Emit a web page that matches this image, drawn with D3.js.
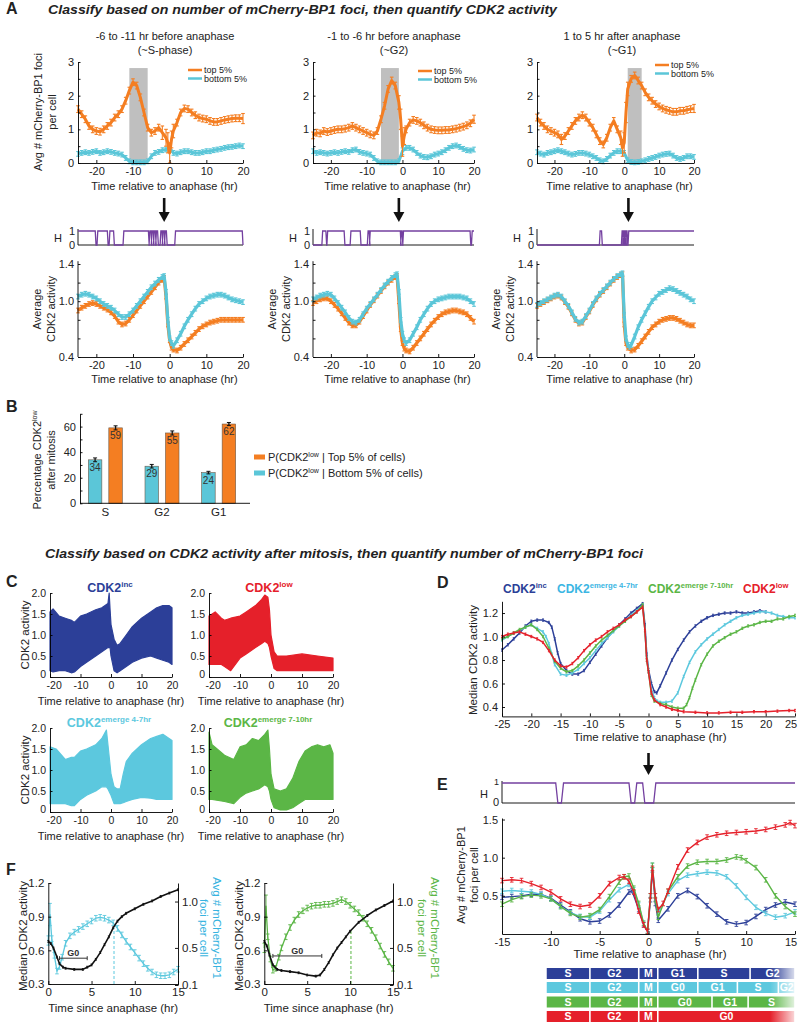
<!DOCTYPE html>
<html><head><meta charset="utf-8">
<script src="https://cdn.jsdelivr.net/npm/d3@7"></script>
<style>body{margin:0;background:#fff}svg{display:block}</style>
</head><body><script>
// ================= DATA =================
// Panel A: avg # mCherry-BP1 foci (t, value, optional err)
const fociTopS=[[-25,1.6],[-24,1.45],[-23,1.3],[-22,1.1],[-21,1.0],[-20,0.95],[-19,0.93],[-18,1.0],[-17,1.1],[-16,1.2],[-15,1.35],[-14,1.45],[-13,1.6],[-12,1.85],[-11,2.15],[-10,2.4],[-9,2.3],[-8,1.95],[-7,1.5],[-6,1.05],[-5,0.9],[-4,0.95],[-3,1.05],[-2,0.9,0.2],[-1,0.75,0.25],[-0.5,0.6,0.3],[0,0.3,0.3],[0.5,0.7,0.25],[1,0.95,0.2],[2,1.2],[3,1.5],[4,1.62],[5,1.6],[6,1.5],[7,1.42],[8,1.35],[9,1.32],[10,1.3],[11,1.25],[12,1.22],[13,1.22],[14,1.25],[15,1.28],[16,1.3],[17,1.32],[18,1.33],[19,1.33],[20,1.32,0.15]];
const fociBotS=[[-25,0.27],[-24,0.3],[-23,0.32],[-22,0.3],[-21,0.33],[-20,0.35],[-19,0.3],[-18,0.32],[-17,0.35],[-16,0.33],[-15,0.3],[-14,0.28],[-13,0.25],[-12,0.15],[-11,0.05],[-10,0.02],[-9,0.02],[-8,0.02],[-7,0.02],[-6,0.05],[-5,0.2],[-4,0.3],[-3,0.33],[-2,0.38],[-1,0.4],[0,0.45,0.12],[1,0.3],[2,0.28],[3,0.32],[4,0.35],[5,0.35],[6,0.32],[7,0.3],[8,0.3],[9,0.32],[10,0.35],[11,0.35],[12,0.38],[13,0.4],[14,0.42],[15,0.45],[16,0.47],[17,0.48],[18,0.5],[19,0.52],[20,0.5]];
const fociTopG2=[[-25,0.82],[-24,0.9],[-23,0.88],[-22,0.95],[-21,0.92],[-20,0.95],[-19,0.98],[-18,1.0],[-17,1.0],[-16,1.02],[-15,1.05],[-14,1.1],[-13,1.05],[-12,1.0],[-11,0.95],[-10,0.9],[-9,0.85],[-8,0.82],[-7,0.95],[-6,1.3],[-5,1.7],[-4,2.2],[-3,2.45],[-2,2.3],[-1,1.8,0.2],[-0.5,1.3,0.3],[0,0.5,0.3],[0.5,0.8,0.25],[1,1.0],[2,1.2],[3,1.28],[4,1.25],[5,1.2],[6,1.12],[7,1.05],[8,1.0],[9,0.98],[10,0.97],[11,0.97],[12,0.98],[13,0.98],[14,1.0],[15,1.02],[16,1.05],[17,1.08],[18,1.12],[19,1.18],[20,1.3,0.12]];
const fociBotG2=[[-25,0.35],[-24,0.3],[-23,0.32],[-22,0.3],[-21,0.28],[-20,0.3],[-19,0.32],[-18,0.3],[-17,0.33],[-16,0.35],[-15,0.33],[-14,0.38],[-13,0.4],[-12,0.33],[-11,0.3],[-10,0.28],[-9,0.25],[-8,0.15],[-7,0.05],[-6,0.02],[-5,0.02],[-4,0.02],[-3,0.02],[-2,0.02],[-1,0.05],[0,0.35,0.1],[1,0.45],[2,0.45],[3,0.4],[4,0.3],[5,0.22],[6,0.18],[7,0.17],[8,0.2],[9,0.25],[10,0.28],[11,0.32],[12,0.38],[13,0.45],[14,0.5],[15,0.52],[16,0.48],[17,0.42],[18,0.38],[19,0.37],[20,0.4]];
const fociTopG1=[[-25,1.35],[-24,1.2],[-23,1.1],[-22,1.0],[-21,0.95],[-20,0.9],[-19,0.85],[-18,0.7,0.15],[-17,0.8],[-16,0.95],[-15,1.1],[-14,1.25],[-13,1.35],[-12,1.42],[-11,1.35],[-10,1.2],[-9,1.05],[-8,0.85],[-7,0.65],[-6,0.55],[-5,0.75],[-4,1.05],[-3,1.25],[-2,1.0],[-1,0.75,0.2],[-0.5,0.45,0.25],[0,0.6,0.3],[0.5,1.5,0.3],[1,2.2,0.2],[2,2.5],[3,2.6],[4,2.45],[5,2.3],[6,2.1],[7,1.95],[8,1.85],[9,1.75],[10,1.68],[11,1.62],[12,1.58],[13,1.55],[14,1.52],[15,1.52],[16,1.55],[17,1.55],[18,1.58],[19,1.6],[20,1.62,0.12]];
const fociBotG1=[[-25,0.32],[-24,0.28],[-23,0.25],[-22,0.3],[-21,0.32],[-20,0.35],[-19,0.38],[-18,0.35],[-17,0.32],[-16,0.28],[-15,0.25],[-14,0.27],[-13,0.3],[-12,0.3],[-11,0.28],[-10,0.25],[-9,0.2],[-8,0.15],[-7,0.08],[-6,0.05],[-5,0.12],[-4,0.22],[-3,0.3],[-2,0.35],[-1,0.35],[0,0.3],[1,0.08],[2,0.03],[3,0.02],[4,0.03],[5,0.05],[6,0.08],[7,0.12],[8,0.15],[9,0.18],[10,0.22],[11,0.25],[12,0.27],[13,0.28],[14,0.22],[15,0.15],[16,0.12],[17,0.15],[18,0.2],[19,0.2],[20,0.18]];
const shadeWindows=[[-11,-6],[-6,-1],[1,5]];
const phaseTitles=[["-6 to -11 hr before anaphase","(~S-phase)"],["-1 to -6 hr before anaphase","(~G2)"],["1 to 5 hr after anaphase","(~G1)"]];
// H (significance) intervals where H = 1
const hS=[[-25,-20.3],[-19.6,-17.0],[-16.3,-15.3],[-12.5,-5.8],[-5.4,-5.1],[-4.8,-4.5],[-4.2,-3.9],[-3.6,-3.3],[-2.4,-2.1],[-1.8,-1.5],[-1.2,-0.9],[1.6,19.8]];
const hG2=[[-22.3,-21.4],[-20.9,-16.3],[-14.4,-11.8],[-9.6,-9.3],[-9.0,-0.6],[-0.3,-0.1],[0.3,18.9],[19.5,20]];
const hG1=[[-6.9,-6.5],[-0.6,-0.4],[-0.2,0.0],[0.2,0.4],[0.6,0.8],[1.3,20]];
// Panel A: average CDK2 activity
const cdkTopS=[[-25,0.9],[-24,0.93],[-23,0.95],[-22,0.97],[-21,0.98],[-20,0.97],[-19,0.95],[-18,0.93],[-17,0.91],[-16,0.88],[-15,0.84],[-14,0.78],[-13,0.75],[-12,0.76],[-11,0.8],[-10,0.85],[-9,0.9],[-8,0.95],[-7,1.0],[-6,1.05],[-5,1.1],[-4,1.15],[-3,1.2],[-2,1.23],[-1.5,1.25],[-1,1.05],[-0.5,0.75],[0,0.58],[0.5,0.5],[1,0.48],[2,0.47],[3,0.5],[4,0.54],[5,0.58],[6,0.62],[7,0.66],[8,0.7],[9,0.73],[10,0.75],[11,0.77],[12,0.78],[13,0.79],[14,0.8],[15,0.8],[16,0.8],[17,0.8],[18,0.8],[19,0.8],[20,0.8]];
const cdkBotS=[[-25,1.05],[-24,1.07],[-23,1.08],[-22,1.07],[-21,1.05],[-20,1.03],[-19,1.0],[-18,0.97],[-17,0.95],[-16,0.93],[-15,0.9],[-14,0.86],[-13,0.83],[-12,0.83],[-11,0.86],[-10,0.9],[-9,0.95],[-8,1.0],[-7,1.05],[-6,1.1],[-5,1.15],[-4,1.19],[-3,1.23],[-2,1.26],[-1.5,1.27],[-1,1.1],[-0.5,0.8],[0,0.6],[0.5,0.55],[1,0.52],[2,0.58],[3,0.65],[4,0.73],[5,0.8],[6,0.86],[7,0.92],[8,0.97],[9,1.0],[10,1.03],[11,1.05],[12,1.06],[13,1.07],[14,1.07],[15,1.06],[16,1.04],[17,1.02],[18,1.01],[19,1.0],[20,0.99]];
const cdkTopG2=[[-25,0.98],[-24,1.0],[-23,1.02],[-22,1.03],[-21,1.03],[-20,1.0],[-19,0.96],[-18,0.92],[-17,0.87],[-16,0.82],[-15,0.77],[-14,0.74],[-13,0.74],[-12,0.78],[-11,0.84],[-10,0.9],[-9,0.96],[-8,1.01],[-7,1.06],[-6,1.11],[-5,1.16],[-4,1.2],[-3,1.23],[-2,1.26],[-1.5,1.27],[-1,1.0],[-0.5,0.7],[0,0.55],[0.5,0.49],[1,0.47],[2,0.46],[3,0.5],[4,0.55],[5,0.6],[6,0.65],[7,0.7],[8,0.75],[9,0.79],[10,0.83],[11,0.86],[12,0.88],[13,0.89],[14,0.9],[15,0.9],[16,0.89],[17,0.88],[18,0.86],[19,0.82],[20,0.78]];
const cdkBotG2=[[-25,1.02],[-24,1.04],[-23,1.06],[-22,1.07],[-21,1.08],[-20,1.07],[-19,1.03],[-18,0.98],[-17,0.93],[-16,0.88],[-15,0.82],[-14,0.78],[-13,0.77],[-12,0.8],[-11,0.86],[-10,0.92],[-9,0.97],[-8,1.02],[-7,1.07],[-6,1.12],[-5,1.17],[-4,1.21],[-3,1.25],[-2,1.28],[-1.5,1.29],[-1,1.1],[-0.5,0.8],[0,0.65],[0.5,0.58],[1,0.55],[2,0.58],[3,0.65],[4,0.72],[5,0.8],[6,0.86],[7,0.92],[8,0.97],[9,1.0],[10,1.02],[11,1.03],[12,1.04],[13,1.05],[14,1.05],[15,1.05],[16,1.05],[17,1.04],[18,1.03],[19,1.0],[20,0.97]];
const cdkTopG1=[[-25,0.95],[-24,0.97],[-23,0.99],[-22,1.01],[-21,1.03],[-20,1.05],[-19,1.06],[-18,1.04],[-17,0.99],[-16,0.94],[-15,0.87],[-14,0.8],[-13,0.76],[-12,0.77],[-11,0.83],[-10,0.89],[-9,0.96],[-8,1.02],[-7,1.07],[-6,1.11],[-5,1.15],[-4,1.19],[-3,1.23],[-2,1.26],[-1,1.28],[-0.5,1.29],[0,0.75],[0.5,0.55],[1,0.5],[2,0.47],[3,0.48],[4,0.52],[5,0.57],[6,0.62],[7,0.67],[8,0.72],[9,0.75],[10,0.78],[11,0.8],[12,0.81],[13,0.82],[14,0.82],[15,0.81],[16,0.79],[17,0.77],[18,0.75],[19,0.74],[20,0.74]];
const cdkBotG1=[[-25,0.96],[-24,0.98],[-23,1.0],[-22,1.02],[-21,1.04],[-20,1.06],[-19,1.07],[-18,1.05],[-17,1.0],[-16,0.95],[-15,0.88],[-14,0.81],[-13,0.77],[-12,0.78],[-11,0.84],[-10,0.9],[-9,0.97],[-8,1.03],[-7,1.08],[-6,1.12],[-5,1.16],[-4,1.2],[-3,1.24],[-2,1.27],[-1,1.29],[-0.5,1.3],[0,0.85],[0.5,0.6],[1,0.53],[1.5,0.51],[2,0.53],[3,0.62],[4,0.72],[5,0.8],[6,0.87],[7,0.94],[8,1.0],[9,1.04],[10,1.08],[11,1.1],[12,1.12],[13,1.14],[14,1.13],[15,1.11],[16,1.09],[17,1.07],[18,1.05],[19,1.02],[20,1.0]];
// Panel B
const phaseCats=["S","G2","G1"];
const pctTop=[59,55,62];
const pctBottom=[34,29,24];
const pctErrTop=[1.6,1.6,1.2];
const pctErrBottom=[1.5,1.4,1.0];
// Panel C: envelopes of single-cell traces [t, low, high]
const envInc=[[-20,0.15,1.55],[-19,0.12,1.62],[-17,0.15,1.45],[-15,0.15,1.4],[-13,0.1,1.35],[-12,0.12,1.3],[-10,0.25,1.45],[-8,0.35,1.5],[-5,0.5,1.6],[-3,0.6,1.65],[-1,0.7,1.75],[-0.6,0.7,2.0],[-0.3,0.7,1.6],[0,0.5,1.25],[1,0.15,0.9],[2,0.1,0.75],[3,0.15,0.8],[5,0.25,1.0],[7,0.35,1.2],[10,0.45,1.4],[13,0.5,1.55],[15,0.45,1.65],[17,0.4,1.7],[19,0.35,1.7],[20,0.3,1.65]];
const envLow=[[-20,0.3,1.45],[-18,0.3,1.55],[-16,0.3,1.4],[-15,0.25,1.35],[-13,0.15,1.4],[-10,0.45,1.45],[-8,0.55,1.55],[-5,0.7,1.7],[-3,0.8,1.85],[-2,0.85,1.95],[-1,0.8,1.9],[-0.5,0.7,1.6],[0,0.5,1.0],[1,0.2,0.6],[2,0.15,0.5],[5,0.15,0.5],[10,0.15,0.55],[15,0.15,0.5],[20,0.15,0.45]];
const envE47=[[-20,0.2,1.55],[-18,0.2,1.5],[-15,0.2,1.25],[-13,0.15,1.3],[-12,0.15,1.3],[-10,0.3,1.45],[-8,0.4,1.5],[-5,0.5,1.6],[-3,0.6,1.75],[-1.5,0.6,1.95],[-1,0.55,1.6],[0,0.4,0.9],[1,0.2,0.6],[2,0.2,0.55],[3,0.2,0.55],[4,0.22,0.9],[5,0.25,1.2],[7,0.3,1.4],[10,0.35,1.6],[13,0.33,1.75],[15,0.3,1.8],[17,0.3,1.85],[20,0.3,1.7]];
const envE710=[[-20,0.3,1.9],[-19,0.3,1.6],[-15,0.25,1.35],[-12,0.2,1.25],[-10,0.35,1.55],[-8,0.45,1.6],[-6,0.5,1.75],[-4,0.55,1.7],[-2,0.65,1.85],[-1,0.6,1.95],[-0.5,0.5,1.5],[0,0.3,0.9],[1,0.1,0.55],[3,0.05,0.5],[5,0.05,0.55],[7,0.1,0.8],[9,0.2,1.2],[11,0.3,1.45],[13,0.3,1.55],[15,0.3,1.6],[17,0.3,1.55],[19,0.3,1.6],[20,0.3,1.4]];
// Panel D: median CDK2 activity
const medInc=[[-25,0.885],[-24,0.93],[-23,0.98],[-22,1.03],[-21,1.09],[-20,1.13],[-19,1.14],[-18,1.14],[-17,1.12],[-16.5,1.08],[-16,0.98],[-15.5,0.86],[-15,0.77],[-14,0.71],[-13,0.68],[-12,0.68],[-11,0.71],[-10,0.78],[-9,0.85],[-8,0.92],[-7,0.99],[-6,1.05],[-5,1.1],[-4,1.15],[-3,1.2],[-2,1.24],[-1,1.28],[-0.6,1.1],[-0.3,0.85],[0,0.72],[0.5,0.6],[1,0.53],[1.4,0.52],[2,0.58],[3,0.69],[4,0.8],[5,0.89],[6,0.97],[7,1.04],[8,1.09],[9,1.13],[10,1.16],[11,1.18],[12,1.19],[13,1.2],[14,1.2],[15,1.21],[16,1.2],[17,1.2],[18,1.21],[19,1.22],[20,1.21]];
const medE47=[[-25,0.97],[-24,1.0],[-23,1.03],[-22,1.05],[-21,1.08],[-20,1.1],[-19,1.07],[-18,1.04],[-17.5,1.0],[-17,0.94],[-16.5,0.85],[-16,0.76],[-15,0.68],[-14,0.67],[-13,0.69],[-12,0.72],[-11,0.77],[-10,0.82],[-9,0.88],[-8,0.94],[-7,0.99],[-6,1.04],[-5,1.09],[-4,1.13],[-3,1.18],[-2,1.22],[-1,1.27],[-0.6,1.05],[-0.3,0.82],[0,0.7],[0.5,0.55],[1,0.48],[1.5,0.45],[2,0.44],[3,0.44],[4,0.45],[5,0.52],[6,0.66],[7,0.78],[8,0.87],[9,0.93],[10,0.98],[11,1.02],[12,1.06],[13,1.1],[14,1.13],[15,1.16],[16,1.18],[17,1.19],[18,1.2],[19,1.21],[20,1.21],[21,1.2],[22,1.18],[23,1.17],[24,1.16],[25,1.16]];
const medE710=[[-25,0.98],[-24,1.0],[-23,1.03],[-22,1.06],[-21,1.08],[-20,1.1],[-19,1.06],[-18,1.0],[-17,0.9],[-16,0.79],[-15,0.73],[-14,0.7],[-13,0.71],[-12,0.75],[-11,0.8],[-10,0.86],[-9,0.92],[-8,0.97],[-7,1.01],[-6,1.05],[-5,1.09],[-4,1.13],[-3,1.17],[-2,1.21],[-1,1.27],[-0.6,1.05],[-0.3,0.8],[0,0.7],[0.5,0.5],[1,0.45],[2,0.43],[3,0.42],[4,0.4],[5,0.39],[6,0.39],[6.5,0.42],[7,0.48],[7.5,0.56],[8,0.63],[9,0.76],[10,0.85],[11,0.92],[12,0.96],[13,0.99],[14,1.02],[15,1.04],[16,1.07],[17,1.09],[18,1.1],[19,1.12],[20,1.13],[21,1.13],[22,1.15],[23,1.15],[24,1.17],[25,1.18]];
const medLow=[[-25,1.0],[-24,1.02],[-23,1.03],[-22,1.04],[-21,1.02],[-20,1.0],[-19,0.98],[-18,0.95],[-17,0.88],[-16,0.8],[-15,0.75],[-14,0.74],[-13,0.77],[-12,0.82],[-11,0.88],[-10,0.93],[-9,0.97],[-8,1.0],[-7,1.04],[-6,1.07],[-5,1.1],[-4,1.14],[-3,1.17],[-2,1.21],[-1,1.25],[-0.6,1.05],[-0.3,0.8],[0,0.7],[0.5,0.52],[1,0.46],[2,0.42],[3,0.4],[4,0.38],[5,0.37],[6,0.36],[8,0.355],[10,0.35],[12,0.35],[14,0.355],[16,0.355],[18,0.36],[20,0.36],[22,0.365],[24,0.37],[25,0.37]];
// Panel E
const hE=[[-15,-9.5],[-8.7,-2.0],[-1.2,-0.6],[0.75,15]];
const fociInc=[[-15,0.48],[-14,0.49],[-13,0.5],[-12,0.52],[-11,0.52],[-10,0.47],[-9,0.38],[-8,0.29],[-7,0.2],[-6,0.16],[-5,0.17],[-4,0.25],[-3,0.38],[-2,0.55],[-1.7,0.57],[-1,0.32],[-0.5,0.12],[-0.1,0.03],[0.2,0.45],[0.4,0.84],[0.7,0.4],[1,0.18],[2,0.33],[3,0.5],[4,0.57],[5,0.49],[6,0.37],[7,0.26],[8,0.16],[9,0.13],[10,0.15],[11,0.23],[12,0.32],[13,0.38],[14,0.42],[15,0.39]];
const fociE47=[[-15,0.56],[-14,0.57],[-13,0.56],[-12,0.55],[-11,0.52],[-10,0.46],[-9,0.36],[-8,0.28],[-7,0.23],[-6,0.22],[-5,0.3],[-4,0.45],[-3,0.58],[-2,0.65],[-1.5,0.58],[-1,0.38],[-0.5,0.14],[-0.1,0.04],[0.2,0.5],[0.4,0.9],[0.7,0.5],[1,0.28],[2,0.53],[3,0.7],[4,0.77],[5,0.79],[6,0.81],[7,0.8],[8,0.75],[9,0.63],[10,0.48],[11,0.35],[12,0.27],[13,0.22],[14,0.24],[15,0.29]];
const fociE710=[[-15,0.39],[-14,0.45],[-13,0.49],[-12,0.51],[-11,0.5],[-10,0.46],[-9,0.36],[-8,0.27],[-7,0.22],[-6,0.24],[-5,0.32],[-4,0.49],[-3,0.68],[-2.5,0.75],[-2,0.76],[-1.5,0.6],[-1,0.4],[-0.5,0.14],[-0.1,0.04],[0.2,0.5],[0.4,0.9],[0.7,0.45],[1,0.22],[2,0.56],[3,0.75],[4,0.89],[5,0.94],[6,0.95],[7,0.95],[8,0.97],[9,1.01],[9.5,1.0],[10,0.96],[11,0.87],[12,0.71],[13,0.5],[14,0.36],[15,0.26]];
const fociLow=[[-15,0.7],[-14,0.71],[-13,0.7],[-12,0.66],[-11,0.61],[-10,0.55],[-9,0.46],[-8,0.39],[-7,0.36],[-6,0.38],[-5,0.5],[-4,0.66],[-3,0.74],[-2.5,0.75],[-2,0.69],[-1.5,0.55],[-1,0.3],[-0.5,0.12],[-0.1,0.03],[0.2,0.5],[0.4,0.86],[0.7,0.5],[1,0.32],[1.5,0.4],[2,0.56],[3,0.88],[4,1.1],[5,1.2],[6,1.27],[7,1.3],[8,1.32],[9,1.33],[10,1.34],[11,1.35],[12,1.37],[13,1.4],[14,1.43],[14.5,1.46],[15,1.42]];
// cell-cycle phase bars [label, start hr, end hr]
const phasesInc=[["S",-10.5,-6],["G2",-6,-1],["M",-1,0.95],["G1",0.95,5.05],["S",5.05,10.4],["G2",10.4,15]];
const phasesE47=[["S",-10.5,-6],["G2",-6,-1],["M",-1,0.95],["G0",0.95,5.05],["G1",5.05,9.1],["S",9.1,13.3],["G2",13.3,15]];
const phasesE710=[["S",-10.5,-6],["G2",-6,-1],["M",-1,0.95],["G0",0.95,6.5],["G1",6.5,10.2],["S",10.2,15]];
const phasesLow=[["S",-10.5,-6],["G2",-6,-1],["M",-1,0.95],["G0",0.95,15]];
// Panel F
const fCdkE47=[[0,0.68],[0.3,0.66],[0.6,0.62],[1,0.54],[1.3,0.48],[1.7,0.45],[2,0.44],[3,0.43],[4,0.43],[4.5,0.45],[5,0.47],[5.5,0.52],[6,0.58],[6.5,0.65],[7,0.72],[7.5,0.8],[8,0.86],[8.5,0.9],[9,0.93],[10,0.97],[11,1.01],[12,1.04],[13,1.08],[14,1.11],[15,1.14]];
const fFociE47=[[0,0.58,0.05],[0.2,0.86,0.12],[0.4,0.6],[0.7,0.42],[1,0.25],[1.3,0.3],[1.6,0.4],[2,0.55],[2.5,0.63],[3,0.67],[3.5,0.7],[4,0.73],[4.5,0.76],[5,0.79],[5.5,0.82],[6,0.83],[6.5,0.82],[7,0.8],[7.5,0.77],[8,0.71],[8.5,0.64],[9,0.57],[9.5,0.51],[10,0.45],[10.5,0.39],[11,0.33],[11.5,0.28],[12,0.24],[12.5,0.21],[13,0.2],[13.5,0.2],[14,0.21],[14.5,0.24],[15,0.27]];
const fCdkE710=[[0,0.68],[0.3,0.64],[0.6,0.56],[1,0.47],[1.5,0.43],[2,0.42],[3,0.41],[4,0.4],[5,0.38],[6,0.37],[6.5,0.38],[7,0.43],[7.5,0.49],[8,0.56],[8.5,0.62],[9,0.67],[9.5,0.72],[10,0.77],[11,0.85],[12,0.91],[13,0.96],[14,1.0],[15,1.04]];
const fFociE710=[[0,0.5,0.05],[0.2,0.95,0.12],[0.4,0.62],[0.7,0.38],[1,0.26],[1.3,0.28],[1.7,0.4],[2,0.5],[2.5,0.62],[3,0.72],[3.5,0.8],[4,0.86],[4.5,0.9],[5,0.93],[5.5,0.95],[6,0.96],[6.5,0.96],[7,0.97],[7.5,0.97],[8,0.98],[8.5,1.0],[9,1.02],[9.5,1.0],[10,0.96],[10.5,0.92],[11,0.88],[11.5,0.82],[12,0.76],[12.5,0.69],[13,0.61],[13.5,0.52],[14,0.43],[14.5,0.35],[15,0.28]];
const fG0=[[1.3,4.5,0.53],[1.0,6.7,0.55]];   // [start, end, level on CDK2 axis]
const fCross=[[7.6,0.8],[10.1,0.78]];         // [time, CDK2 level]

// ================= DRAWING =================
const FONT="'Liberation Sans', Arial, Helvetica, sans-serif";
const C={orange:"#f47e22",cyanA:"#5bc6d8",purple:"#7440a0",dblue:"#2c3f98",red:"#e5202a",cyan:"#5cc8de",green:"#5bb646",gray:"#bfbfbf",txt:"#222"};
const svg=d3.select("body").append("svg").attr("width",800).attr("height",1023).style("font-family",FONT);

function txt(g,x,y,s,o={}){const t=g.append("text").attr("x",x).attr("y",y).text(s)
 .attr("font-size",o.fs||11).attr("fill",o.fill||C.txt).attr("text-anchor",o.anchor||"start");
 if(o.fw)t.attr("font-weight",o.fw); if(o.fst)t.attr("font-style",o.fst);
 if(o.rot!=null)t.attr("transform",`rotate(${o.rot},${x},${y})`);
 if(o.tl)t.attr("textLength",o.tl).attr("lengthAdjust","spacingAndGlyphs");
 return t;}
function supText(g,x,y,main,sup,o={}){const fs=o.fs||11;
 const t=g.append("text").attr("x",x).attr("y",y).attr("font-size",fs).attr("fill",o.fill||C.txt)
 .attr("text-anchor",o.anchor||"start").attr("font-weight",o.fw||"normal");
 t.append("tspan").text(main);
 t.append("tspan").attr("font-size",fs*0.64).attr("dy",-fs*0.4).text(sup);
 if(o.after)t.append("tspan").attr("font-size",fs).attr("dy",fs*0.4).text(o.after);
 if(o.rot!=null)t.attr("transform",`rotate(${o.rot},${x},${y})`);
 return t;}
function axis(g,orient,scale,pos,vals,fmt,o={}){
 const gen=(orient==="left"?d3.axisLeft:orient==="right"?d3.axisRight:d3.axisBottom)(scale)
  .tickValues(vals).tickFormat(fmt).tickSizeInner(o.ts!=null?o.ts:-3).tickSizeOuter(0).tickPadding(o.pad||4);
 const a=g.append("g").attr("transform",orient==="bottom"?`translate(0,${pos})`:`translate(${pos},0)`).call(gen);
 a.attr("font-family",FONT).attr("font-size",o.fs||11);
 a.select(".domain").attr("stroke","#000").attr("stroke-width",0.9);
 a.selectAll(".tick line").attr("stroke","#000").attr("stroke-width",0.9);
 a.selectAll(".tick text").attr("fill",o.color||C.txt);
 return a;}
const fmtH=d=>String(d);
const lbl=(list,f)=>d=>list.some(v=>Math.abs(v-d)<1e-9)?f(d):"";
function lineErr(g,sx,sy,data,color,o){
 g.append("path").datum(data).attr("d",d3.line().x(d=>sx(d[0])).y(d=>sy(d[1])))
  .attr("fill","none").attr("stroke",color).attr("stroke-width",o.w).attr("stroke-linejoin","round");
 const eg=g.append("g").attr("stroke",color).attr("stroke-width",o.ew||0.9);
 const errOf=d=>d[2]!=null?d[2]:o.e;
 eg.selectAll("line.v").data(data).join("line").attr("x1",d=>sx(d[0])).attr("x2",d=>sx(d[0]))
  .attr("y1",d=>sy(d[1]-errOf(d))).attr("y2",d=>sy(d[1]+errOf(d)));
 [1,-1].forEach(s=>eg.selectAll(null).data(data).join("line").attr("x1",d=>sx(d[0])-o.cap).attr("x2",d=>sx(d[0])+o.cap)
  .attr("y1",d=>sy(d[1]+s*errOf(d))).attr("y2",d=>sy(d[1]+s*errOf(d))));
}
function hPath(g,sx,sy,iv,t0,t1){const s=0.22,pts=[];
 if(iv[0][0]>t0)pts.push([t0,0]);
 iv.forEach(([a,b])=>{ if(a<=t0)pts.push([t0,1]); else {pts.push([a-s,0]);pts.push([a,1]);}
  if(b>=t1)pts.push([t1,1]); else {pts.push([b,1]);pts.push([Math.min(b+s,t1),0]);} });
 if(iv[iv.length-1][1]<t1)pts.push([t1,0]);
 g.append("path").datum(pts).attr("d",d3.line().x(d=>sx(d[0])).y(d=>sy(d[1])))
  .attr("fill","none").attr("stroke",C.purple).attr("stroke-width",1.3);}
function arrow(g,x,y0,y1){g.append("line").attr("x1",x).attr("x2",x).attr("y1",y0).attr("y2",y1-8).attr("stroke","#111").attr("stroke-width",2.6);
 g.append("path").attr("d",`M${x-5.5},${y1-10}L${x+5.5},${y1-10}L${x},${y1}Z`).attr("fill","#111");}

// ---------- Panel A ----------
txt(svg,6,14,"A",{fs:16,fw:"bold"});
txt(svg,48,14,"Classify based on number of mCherry-BP1 foci, then quantify CDK2 activity",{fs:13.5,fw:"bold",fst:"italic",tl:509});
const colRanges=[[78,243],[313,474],[537,694]];
const subX=[165,394,622];
const fociTop=[fociTopS,fociTopG2,fociTopG1], fociBot=[fociBotS,fociBotG2,fociBotG1];
const cdkTop=[cdkTopS,cdkTopG2,cdkTopG1], cdkBot=[cdkBotS,cdkBotG2,cdkBotG1];
const hAll=[hS,hG2,hG1];
const legPos=[[188,70],[418,71],[655,65]];
const arrowT=[-1.5,-1,1.2];
colRanges.forEach((r,i)=>{
 const g=svg.append("g");
 const x=d3.scaleLinear().domain([-25,20]).range(r);
 const y=d3.scaleLinear().domain([0,3]).range([163,62]);
 txt(g,subX[i],40,phaseTitles[i][0],{fs:11,anchor:"middle"});
 txt(g,subX[i],54,phaseTitles[i][1],{fs:11,anchor:"middle"});
 const w=shadeWindows[i];
 g.append("rect").attr("x",x(w[0])).attr("width",x(w[1])-x(w[0])).attr("y",y(2.82)).attr("height",y(0)-y(2.82)).attr("fill",C.gray);
 lineErr(g,x,y,fociBot[i],C.cyanA,{w:3,e:0.07,cap:1.8,ew:1.1});
 lineErr(g,x,y,fociTop[i],C.orange,{w:3,e:0.1,cap:1.8,ew:1.1});
 axis(g,"left",y,r[0],[0,0.5,1,1.5,2,2.5,3],lbl([0,1,2,3],d3.format("d")),{ts:-2.5});
 axis(g,"bottom",x,163,[-20,-10,0,10,20],fmtH,{pad:4});
 txt(g,(r[0]+r[1])/2+4,190,"Time relative to anaphase (hr)",{fs:11,anchor:"middle"});
 const [lx,ly]=legPos[i];
 g.append("line").attr("x1",lx).attr("x2",lx+14).attr("y1",ly).attr("y2",ly).attr("stroke",C.orange).attr("stroke-width",2.5);
 g.append("line").attr("x1",lx).attr("x2",lx+14).attr("y1",ly+8.5).attr("y2",ly+8.5).attr("stroke",C.cyanA).attr("stroke-width",2.5);
 txt(g,lx+16,ly+3,"top 5%",{fs:9});
 txt(g,lx+16,ly+11.5,"bottom 5%",{fs:9});
 arrow(g,x(arrowT[i]),198,222);
 const yh=d3.scaleLinear().domain([0,1]).range([245,231]);
 g.append("line").attr("x1",r[0]).attr("x2",r[1]).attr("y1",245).attr("y2",245).attr("stroke","#000").attr("stroke-width",0.9);
 g.append("line").attr("x1",r[0]).attr("x2",r[0]).attr("y1",229).attr("y2",245).attr("stroke","#000").attr("stroke-width",0.9);
 hPath(g,x,yh,hAll[i],-25,20);
 txt(g,r[0]-3,235,"1",{fs:11,anchor:"end"});
 txt(g,r[0]-3,249,"0",{fs:11,anchor:"end"});
 txt(g,r[0]-24,242,"H",{fs:11});
 const yc=d3.scaleLinear().domain([0.4,1.4]).range([357,264]);
 lineErr(g,x,yc,cdkTop[i],C.orange,{w:3.2,e:0.025,cap:1.8,ew:1.1});
 lineErr(g,x,yc,cdkBot[i],C.cyanA,{w:3.2,e:0.025,cap:1.8,ew:1.1});
 const ya=axis(g,"left",yc,r[0],[0.4,0.6,0.8,1.0,1.2,1.4],lbl([0.4,1.0,1.4],d3.format(".1f")),{ts:-2.5});
 ya.select(".domain").attr("d",`M0,${yc(0.4)}V${yc(1.43)}`);
 axis(g,"bottom",x,357,[-20,-10,0,10,20],fmtH,{pad:4});
 txt(g,(r[0]+r[1])/2+4,383,"Time relative to anaphase (hr)",{fs:11,anchor:"middle"});
 txt(g,r[0]-37,309,"Average",{fs:11,anchor:"middle",rot:-90});
 txt(g,r[0]-23,309,"CDK2 activity",{fs:11,anchor:"middle",rot:-90});
});
txt(svg,42,112,"Avg # mCherry-BP1 foci",{fs:11,anchor:"middle",rot:-90});
txt(svg,56,112,"per cell",{fs:11,anchor:"middle",rot:-90});

// ---------- Panel B ----------
{
 const g=svg.append("g");
 txt(g,6,412,"B",{fs:16,fw:"bold"});
 const y=d3.scaleLinear().domain([0,70]).range([503.3,413.8]);
 const x0=d3.scaleBand().domain(phaseCats).range([77,247]);
 const x1=d3.scaleBand().domain(["bottom","top"]).range([-17,17]).paddingInner(0.34);
 const series=[["bottom",pctBottom,pctErrBottom,C.cyanA],["top",pctTop,pctErrTop,C.orange]];
 series.forEach(([k,vals,errs,col])=>{
  phaseCats.forEach((c,j)=>{
   const bx=x0(c)+x0.bandwidth()/2+x1(k);
   g.append("rect").attr("x",bx).attr("width",x1.bandwidth()).attr("y",y(vals[j])).attr("height",y(0)-y(vals[j]))
    .attr("fill",col).attr("stroke","#6b5a4a").attr("stroke-width",0.6);
   const cx=bx+x1.bandwidth()/2;
   g.append("line").attr("x1",cx).attr("x2",cx).attr("y1",y(vals[j]-errs[j])).attr("y2",y(vals[j]+errs[j])).attr("stroke","#111").attr("stroke-width",1.3);
   g.append("line").attr("x1",cx-2).attr("x2",cx+2).attr("y1",y(vals[j]+errs[j])).attr("y2",y(vals[j]+errs[j])).attr("stroke","#111").attr("stroke-width",1);
   g.append("line").attr("x1",cx-2).attr("x2",cx+2).attr("y1",y(vals[j]-errs[j])).attr("y2",y(vals[j]-errs[j])).attr("stroke","#111").attr("stroke-width",1);
   txt(g,cx,y(vals[j])+11,String(vals[j]),{fs:10,anchor:"middle",fill:"#333"});
  });
 });
 axis(g,"left",y,80,[0,10,20,30,40,50,60,70],lbl([0,20,40,60],d3.format("d")),{ts:-2.5});
 g.append("line").attr("x1",80).attr("x2",250).attr("y1",503.3).attr("y2",503.3).attr("stroke","#000").attr("stroke-width",0.9);
 phaseCats.forEach(c=>txt(g,x0(c)+x0.bandwidth()/2,516,c,{fs:11.5,anchor:"middle"}));
 supText(g,41,460,"Percentage CDK2","low",{fs:11,anchor:"middle",rot:-90});
 txt(g,55,460,"after mitosis",{fs:11,anchor:"middle",rot:-90});
 g.append("rect").attr("x",254).attr("y",454.5).attr("width",11).attr("height",5).attr("fill",C.orange);
 g.append("rect").attr("x",254).attr("y",470.5).attr("width",11).attr("height",5).attr("fill",C.cyanA);
 supText(g,268,461,"P(CDK2","low",{fs:11,after:" | Top 5% of cells)"});
 supText(g,268,477,"P(CDK2","low",{fs:11,after:" | Bottom 5% of cells)"});
}

// ---------- Section 2 title ----------
txt(svg,45,558,"Classify based on CDK2 activity after mitosis, then quantify number of mCherry-BP1 foci",{fs:13.5,fw:"bold",fst:"italic",tl:598});

// ---------- Panel C ----------
{
 const g=svg.append("g");
 txt(g,6,587,"C",{fs:16,fw:"bold"});
 const cells=[
  {env:envInc,col:C.dblue,xr:[50,172],yr:[677,593],title:["CDK2","inc"],tx:110,ty:592,yl:true},
  {env:envLow,col:C.red,xr:[209,333],yr:[677,593],title:["CDK2","low"],tx:269,ty:592,yl:false},
  {env:envE47,col:C.cyan,xr:[50,172],yr:[812,728],title:["CDK2","emerge 4-7hr"],tx:109,ty:727,yl:true},
  {env:envE710,col:C.green,xr:[209,333],yr:[812,728],title:["CDK2","emerge 7-10hr"],tx:268,ty:727,yl:false}];
 cells.forEach(cl=>{
  const x=d3.scaleLinear().domain([-20,20]).range(cl.xr);
  const y=d3.scaleLinear().domain([0,2]).range(cl.yr);
  g.append("path").datum(cl.env).attr("d",d3.area().x(d=>x(d[0])).y0(d=>y(d[1])).y1(d=>y(d[2])))
   .attr("fill",cl.col).attr("stroke",cl.col).attr("stroke-width",1.2).attr("stroke-linejoin","round");
  const ay=axis(g,"left",y,cl.xr[0],[0,0.5,1,1.5,2],d=>d===0?"0":d3.format(".1f")(d),{ts:-2.5,fs:10.5});
  ay.selectAll(".tick text").filter(d=>d===0).attr("dy","0.05em");
  const ax=axis(g,"bottom",x,cl.yr[0],[-20,-10,0,10,20],fmtH,{fs:10.5,pad:5});
  ax.selectAll(".tick text").filter(d=>d===-20).attr("dx","0.35em");
  txt(g,(cl.xr[0]+cl.xr[1])/2,cl.yr[0]+28,"Time relative to anaphase (hr)",{fs:11,anchor:"middle"});
  supText(g,cl.tx,cl.ty,cl.title[0],cl.title[1],{fs:12.5,fw:"bold",fill:cl.col,anchor:"middle"});
  if(cl.yl)txt(g,29,(cl.yr[0]+cl.yr[1])/2,"CDK2 activity",{fs:11.5,anchor:"middle",rot:-90});
 });
}

// ---------- Panel D ----------
{
 const g=svg.append("g");
 txt(g,437,588,"D",{fs:16,fw:"bold"});
 const x=d3.scaleLinear().domain([-25,25]).range([502,795]);
 const y=d3.scaleLinear().domain([0.32,1.3]).range([716.4,601.3]);
 supText(g,503,593,"CDK2","inc",{fs:12,fw:"bold",fill:C.dblue});
 supText(g,557,593,"CDK2","emerge 4-7hr",{fs:12,fw:"bold",fill:"#3cb6e3"});
 supText(g,648,593,"CDK2","emerge 7-10hr",{fs:12,fw:"bold",fill:C.green});
 supText(g,743,593,"CDK2","low",{fs:12,fw:"bold",fill:C.red});
 [[medInc,C.dblue],[medE47,C.cyan],[medE710,C.green],[medLow,C.red]].forEach(([d,c])=>lineErr(g,x,y,d,c,{w:1.5,e:0.01,cap:1}));
 axis(g,"left",y,502,[0.4,0.6,0.8,1.0,1.2],d3.format(".1f"),{ts:-3});
 const ax=axis(g,"bottom",x,716.4,d3.range(-25,26,5),fmtH,{pad:4});
 ax.selectAll(".tick text").filter(d=>d===25).attr("text-anchor","end").attr("dx","0.15em");
 txt(g,650,741,"Time relative to anaphase (hr)",{fs:11.5,anchor:"middle"});
 txt(g,477,660,"Median CDK2 activity",{fs:11.5,anchor:"middle",rot:-90});
 arrow(g,x(0),753,775);
}

// ---------- Panel E ----------
{
 const g=svg.append("g");
 txt(g,437,790,"E",{fs:16,fw:"bold"});
 const x=d3.scaleLinear().domain([-15,15]).range([502,795]);
 const yh=d3.scaleLinear().domain([0,1]).range([803,783]);
 g.append("line").attr("x1",502).attr("x2",795).attr("y1",803).attr("y2",803).attr("stroke","#000").attr("stroke-width",0.9);
 g.append("line").attr("x1",502).attr("x2",502).attr("y1",781).attr("y2",803).attr("stroke","#000").attr("stroke-width",0.9);
 hPath(g,x,yh,hE,-15,15);
 txt(g,499,785,"1",{fs:9,anchor:"end"});
 txt(g,499,806,"0",{fs:11,anchor:"end"});
 txt(g,480,798,"H",{fs:11});
 const y=d3.scaleLinear().domain([0,1.52]).range([934,818]);
 [[fociInc,C.dblue],[fociE47,C.cyan],[fociE710,C.green],[fociLow,C.red]].forEach(([d,c])=>lineErr(g,x,y,d,c,{w:1.4,e:0.03,cap:1.8}));
 axis(g,"left",y,502,[0.5,1.0,1.5],d3.format(".1f"),{ts:-3,fs:11});
 const ax=axis(g,"bottom",x,934,d3.range(-15,16,5),fmtH,{pad:4});
 ax.selectAll(".tick text").filter(d=>d===15).attr("text-anchor","end").attr("dx","0.15em");
 txt(g,650,958,"Time relative to anaphase (hr)",{fs:11.5,anchor:"middle"});
 txt(g,465,875,"Avg # mCherry-BP1",{fs:11,anchor:"middle",rot:-90});
 txt(g,478,875,"foci per cell",{fs:11,anchor:"middle",rot:-90});
 const rows=[[phasesInc,C.dblue,968],[phasesE47,C.cyan,982],[phasesE710,C.green,996.5],[phasesLow,C.red,1011]];
 rows.forEach(([segs,col,top])=>{
  g.selectAll(null).data(segs).join("rect").attr("x",d=>x(d[1])+0.8).attr("width",d=>x(d[2])-x(d[1])-1.6)
   .attr("y",top).attr("height",11).attr("fill",col);
  g.selectAll(null).data(segs).join("text").attr("x",d=>(x(d[1])+x(d[2]))/2).attr("y",top+9.3)
   .attr("text-anchor","middle").attr("font-size",10.5).attr("font-weight","bold").attr("fill","#fff").text(d=>d[0]);
 });
 const grad=svg.append("defs").append("linearGradient").attr("id","fade").attr("x1","0").attr("x2","1").attr("y1","0").attr("y2","0");
 grad.append("stop").attr("offset","0").attr("stop-color","#fff").attr("stop-opacity",0);
 grad.append("stop").attr("offset","1").attr("stop-color","#fff").attr("stop-opacity",1);
 g.append("rect").attr("x",770).attr("y",965).attr("width",30).attr("height",58).attr("fill","url(#fade)");
}

// ---------- Panel F ----------
{
 const g=svg.append("g");
 txt(g,6,875,"F",{fs:16,fw:"bold"});
 const cfg=[{xr:[48.3,178],cdk:fCdkE47,foci:fFociE47,col:C.cyan,lblCol:"#36b3e0",yl1:27,r1:213,r2:200},
            {xr:[264.3,393],cdk:fCdkE710,foci:fFociE710,col:C.green,lblCol:C.green,yl1:243,r1:431,r2:418}];
 cfg.forEach((f,i)=>{
  const x=d3.scaleLinear().domain([0,15]).range(f.xr);
  const yl=d3.scaleLinear().domain([0.3,1.2]).range([984,883]);
  const yr=d3.scaleLinear().domain([0.1,1.2]).range([985,883]);
  const cr=fCross[i];
  g.append("line").attr("x1",x(cr[0])).attr("x2",x(cr[0])).attr("y1",984).attr("y2",yl(cr[1]))
   .attr("stroke",f.col).attr("stroke-width",1).attr("stroke-dasharray","3,2");
  lineErr(g,x,yr,f.foci,f.col,{w:1.3,e:0.03,cap:1.8});
  lineErr(g,x,yl,f.cdk,"#111",{w:1.6,e:0.008,cap:1});
  const gz=fG0[i];
  g.append("line").attr("x1",x(gz[0])).attr("x2",x(gz[1])).attr("y1",yl(gz[2])).attr("y2",yl(gz[2])).attr("stroke","#333").attr("stroke-width",1);
  [gz[0],gz[1]].forEach(t=>g.append("line").attr("x1",x(t)).attr("x2",x(t)).attr("y1",yl(gz[2])-2).attr("y2",yl(gz[2])+2).attr("stroke","#333").attr("stroke-width",1));
  txt(g,x((gz[0]+gz[1])/2),yl(gz[2])-2,"G0",{fs:9,fw:"bold",anchor:"middle",fill:"#333"});
  axis(g,"left",yl,f.xr[0],[0.3,0.6,0.9,1.2],d3.format(".1f"),{ts:-3,fs:11.5});
  axis(g,"right",yr,f.xr[1],[0.1,0.5,1.0],d3.format(".1f"),{ts:-3,fs:11.5});
  axis(g,"bottom",x,984,[0,5,10,15],fmtH,{fs:11.5,pad:4});
  txt(g,(f.xr[0]+f.xr[1])/2,1012,"Time since anaphase (hr)",{fs:11.5,anchor:"middle"});
  txt(g,f.yl1,936,"Median CDK2 activity",{fs:11.5,anchor:"middle",rot:-90});
  txt(g,f.r1,928,"Avg # mCherry-BP1",{fs:11.5,anchor:"middle",rot:90,fill:f.lblCol});
  txt(g,f.r2,928,"foci per cell",{fs:11.5,anchor:"middle",rot:90,fill:f.lblCol});
 });
}
</script></body></html>
